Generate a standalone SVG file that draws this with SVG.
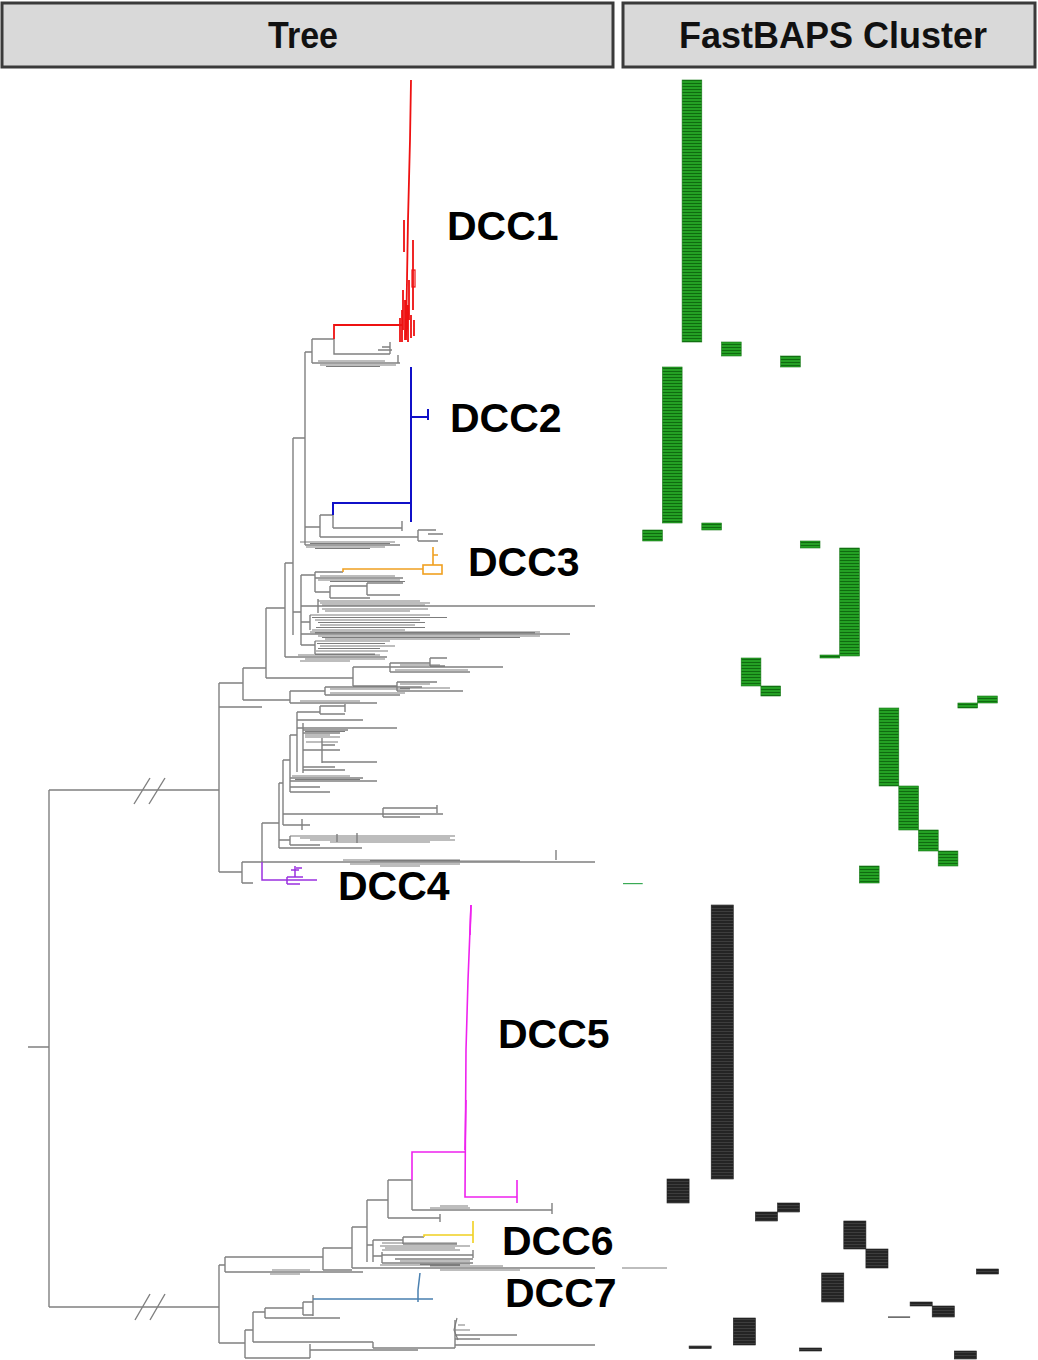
<svg xmlns="http://www.w3.org/2000/svg" width="1038" height="1360" viewBox="0 0 1038 1360">
<style>
.hdr{fill:#d9d9d9;stroke:#3a3a3a;stroke-width:3}
.ht{font-family:"Liberation Sans",Arial,sans-serif;font-weight:bold;font-size:37px;fill:#111;text-anchor:middle}
.lbl{font-family:"Liberation Sans",Arial,sans-serif;font-weight:bold;font-size:41px;fill:#000}
.g{fill:none;stroke:#808080;stroke-width:1.4}
.gb{fill:none;stroke:#7c7c7c;stroke-width:1.2}
.red{fill:none;stroke:#ee1111;stroke-width:1.8}
.blue{fill:none;stroke:#1010c8;stroke-width:2}
.orange{fill:none;stroke:#f0a020;stroke-width:1.6}
.purple{fill:none;stroke:#9b30e0;stroke-width:1.5}
.mag{fill:none;stroke:#ee22ee;stroke-width:1.6}
.yel{fill:none;stroke:#f0d020;stroke-width:1.6}
.steel{fill:none;stroke:#4a80b0;stroke-width:1.5}
.gr{fill:url(#gstripe);stroke:#1a7a1a;stroke-width:0.6}
.bk{fill:url(#kstripe);stroke:#222;stroke-width:0.6}
</style>
<defs>
<pattern id="gstripe" width="6" height="3" patternUnits="userSpaceOnUse"><rect width="6" height="3" fill="#24a024"/><rect y="2" width="6" height="1" fill="#0f6b0f"/></pattern>
<pattern id="kstripe" width="6" height="3" patternUnits="userSpaceOnUse"><rect width="6" height="3" fill="#242424"/><rect y="2" width="6" height="1" fill="#3d3d3d"/></pattern>
</defs>
<rect width="1038" height="1360" fill="#fff"/>

<g id="header-tree"><rect class="hdr" x="2" y="3" width="611" height="64"/><text class="ht" x="303" y="48" textLength="70" lengthAdjust="spacingAndGlyphs">Tree</text></g>
<g id="header-cluster"><rect class="hdr" x="623" y="3" width="412" height="64"/><text class="ht" x="833" y="48" textLength="308" lengthAdjust="spacingAndGlyphs">FastBAPS Cluster</text></g>

<g id="connectors">
<g id="root">
<path class="g" d="M28 1047 H49 M49 790 V1307 M49 790 H219 M49 1307 H219"/>
<path class="g" d="M134 804 L150 778 M149 804 L165 778 M135 1320 L150 1294 M150 1320 L165 1294"/>
</g>
<g id="upper-backbone">
<path class="g" d="M219 683 V872 M219 683 H243 M243 668 V700 M243 668 H266 M266 608 V678 M266 608 H285 M285 563 V657 M285 563 H293 M293 438 V635 M293 438 H305 M305 352 V545 M305 352 H312 M312 339 V363 M312 339 H334 M334 339 V354 H390 M390 342 V354 M378 350 H392 M382 347 H390 M312 363 H400 M398 355 V363"/>
<path class="gb" d="M318 361 H385 M320 365 H396 M326 366.5 H380"/>
<path class="g" d="M305 527 H320 M320 515 V537 M320 515 H333 M333 515 V528 M333 528 H402 M402 521 V531 M320 537 H418 M418 530 V541 M418 530 H436 M428 534 H443 M418 541 H438 M305 545 H400"/>
<path class="gb" d="M300 542 H395 M310 543.5 H390 M306 547 H385 M315 548.5 H370"/>
<path class="g" d="M293 612 H301 M301 575 V645 M301 575 H315 M315 572 V592 M315 572 H343 M315 578 H403 M315 592 H330 M330 586 V598 M330 586 H367 M367 583 V595 M367 583 H403 M367 595 H400 M330 598 H370 M301 606 H595 M318 599 V613 M301 622 H310 M310 615 V630 M301 634 H570 M301 645 H315 M315 641 V654 M285 657 H387"/>
<path class="gb" d="M320 576 H395 M318 580 H400 M330 581.5 H405 M318 601 H420 M320 603 H430 M322 605 H425 M322 609 H428 M325 611 H410 M310 615 H430 M312 617.5 H447 M315 620 H420 M318 622.5 H425 M320 625 H415 M316 627.5 H425 M312 630 H405 M310 632 H540 M315 633 H535 M318 636 H540 M322 637.5 H520 M325 639 H480 M315 641 H390 M317 643.5 H385 M320 646 H395 M318 648.5 H380 M316 651 H388 M315 654 H375 M298 655 H380 M305 659 H385 M300 661 H350"/>
<path class="g" d="M266 678 H353 M353 667 V686 M353 667 H390 M390 663 V672 M390 663 H430 M430 658 V666 M430 658 H447 M430 666 H445 M390 667 H503 M390 672 H470 M353 686 H397 M397 682 V691 M397 682 H437 M397 691 H463 M243 700 H290 M290 691 V703 M290 691 H325 M325 687 V695 M325 687 H422 M325 695 H400 M290 703 H377 M219 707 H262"/>
<path class="gb" d="M395 670 H468 M400 665 H440 M400 688 H450 M400 684 H430 M330 689 H410 M330 693 H405 M300 701 H360"/>
<path class="g" d="M262 823 V862 M262 823 H279 M279 783 V848 M279 848 H362 M279 840 H290 M290 836 V845 M290 845 H320 M337 834 V842 M357 833 V843 M279 783 H283 M283 760 V825 M283 814 H443 M383 808 V817 M383 808 H437 M437 805 V813 M383 817 H420 M283 825 H310 M302 819 V830 M283 760 H290 M290 735 V792 M290 778 H363 M290 781 H377 M290 787 H320 M290 792 H330 M290 735 H297 M297 712 V772 M297 712 H320 M320 706 V714 M320 706 H345 M345 704 V712 M320 714 H345 M297 720 H363 M297 728 H303 M303 723 V773 M303 728 H397 M303 730 H348 M303 733 H340 M303 767 H335 M303 770 H345 M303 750 H322 M322 738 V763 M322 750 H340 M322 762 H377 M322 745 H335"/>
<path class="gb" d="M290 836 H455 M300 838 H450 M310 840 H455 M330 842 H430 M292 776 H350 M295 779.5 H360 M305 731.5 H345 M305 735 H330 M305 737 H340 M306 742 H338"/>
<path class="g" d="M219 872 H242 M242 862 V883 M242 883 H253 M242 862 H595 M556 850 V860"/>
<path class="gb" d="M343 860 H460 M350 864 H460 M380 866 H420 M370 861 H520"/>
</g>
<g id="lower-backbone">
<path class="g" d="M219 1265 V1343 M219 1265 H225 M225 1257 V1272 M225 1257 H323 M323 1248 V1270 M225 1272 H363 M323 1248 H352 M352 1227 V1268 M323 1270 H352 M352 1268 H595 M352 1227 H367 M367 1200 V1262 M367 1200 H388 M388 1180 V1218 M388 1218 H440 M440 1214 V1222 M388 1180 H412 M412 1180 V1210 M412 1210 H552 M552 1203 V1214"/>
<path class="gb" d="M272 1270 H310 M270 1274 H300 M430 1266 H503 M380 1265 H460 M440 1270 H520 M420 1264 H470 M430 1208 H470 M440 1206 H468"/>
<path class="g" d="M367 1245 H373 M373 1240 V1262 M373 1240 H403 M403 1237 V1244 M403 1244 H457 M373 1256 H382 M382 1252 V1263 M382 1255 H473 M473 1250 V1258 M382 1263 H473 M395 1259 H473 M403 1237 H424"/>
<path class="gb" d="M382 1243 H457 M380 1246 H470 M385 1248 H455 M382 1250 H460 M400 1261 H470"/>
<path class="g" d="M219 1343 H245 M245 1330 V1358 M245 1330 H253 M253 1312 V1342 M253 1312 H265 M265 1308 V1318 M265 1308 H303 M303 1302 V1315 M303 1302 H313 M303 1315 H313 M313 1295 V1316 M265 1318 H340 M253 1342 H373 M373 1342 V1348 M373 1348 H455 M455 1320 V1348 M455 1335 H517 M455 1339 H480 M455 1345 H595 M245 1358 H310 M310 1344 V1358 M310 1350 H418"/>
<path class="gb" d="M455 1330 H470 M458 1325 H465 M457 1318 L454 1330 L458 1340 M622 1268 H667"/>
</g>
</g>

<g id="DCC1">
<path class="red" d="M411 80 L410 140 L408 220 L406 340 M404 220 V252 M413 240 V310 M402 310 V342 M405 300 V340 M408 305 V342 M411 315 V338 M414 320 V336 M400 318 V342 M403 290 V330 M409 280 V320 M334 339 V325 H402"/>
<rect x="412" y="270" width="3" height="17" fill="none" stroke="#ee1111" stroke-width="1.2"/>
<text class="lbl" x="447" y="240">DCC1</text>
</g>
<g id="DCC2">
<path class="blue" d="M411 367 V522 M411 417 H428 M428 409 V420 M333 515 V503 H411"/>
<text class="lbl" x="450" y="432">DCC2</text>
</g>
<g id="DCC3">
<path class="orange" d="M343 572 V569 H423 M433 565 V547 M433 555 H438"/>
<rect x="423" y="565" width="19" height="9" fill="none" stroke="#f0a020" stroke-width="1.6"/>
<text class="lbl" x="468" y="576">DCC3</text>
</g>
<g id="DCC4">
<path class="purple" d="M262 862 V880 H290 M287 877 V884 M287 880 H317 M287 877 H303 M295 866 V877 M287 884 H300 M291 870 H299 M296 868 H302"/>
<text class="lbl" x="338" y="900">DCC4</text>
</g>
<g id="DCC5">
<path class="mag" d="M412 1180 V1152 H465 M471 905 L468 980 L466 1050 L465 1197 H517 M517 1180 V1203"/>
<path class="mag" stroke-width="2.6" d="M471 905 L470 935 M466 1100 L465 1150"/>
<text class="lbl" x="498" y="1048">DCC5</text>
</g>
<g id="DCC6">
<path class="yel" d="M424 1237 V1235 H473 M473 1221 V1243"/>
<text class="lbl" x="502" y="1255">DCC6</text>
</g>
<g id="DCC7">
<path class="steel" d="M313 1299 H433 M420 1273 L418 1290 L418 1302"/>
<text class="lbl" x="505" y="1307">DCC7</text>
</g>

<g id="fastbaps-green">
<rect class="gr" x="682.1" y="80" width="19.7" height="262"/>
<rect class="gr" x="721.5" y="342" width="19.7" height="14"/>
<rect class="gr" x="780.6" y="356" width="19.7" height="11"/>
<rect class="gr" x="662.4" y="367" width="19.7" height="156"/>
<rect class="gr" x="701.8" y="523" width="19.7" height="7"/>
<rect class="gr" x="642.7" y="530" width="19.7" height="11"/>
<rect class="gr" x="800.3" y="541" width="19.7" height="7"/>
<rect class="gr" x="839.7" y="548" width="19.7" height="108"/>
<rect class="gr" x="820" y="655" width="19.7" height="3"/>
<rect class="gr" x="741.2" y="658" width="19.7" height="28"/>
<rect class="gr" x="760.9" y="686" width="19.7" height="10"/>
<rect class="gr" x="977.6" y="696" width="19.7" height="7"/>
<rect class="gr" x="957.9" y="703" width="19.7" height="5"/>
<rect class="gr" x="879.1" y="708" width="19.7" height="78"/>
<rect class="gr" x="898.8" y="786" width="19.7" height="44"/>
<rect class="gr" x="918.5" y="830" width="19.7" height="21"/>
<rect class="gr" x="938.2" y="851" width="19.7" height="15"/>
<rect class="gr" x="859.4" y="866" width="19.7" height="17"/>
<rect x="623" y="883" width="19.7" height="1.2" fill="#3aaa55"/>
</g>
<g id="fastbaps-black">
<rect class="bk" x="711.2" y="905" width="22.1" height="274"/>
<rect class="bk" x="667" y="1179" width="22.1" height="24"/>
<rect class="bk" x="777.5" y="1203" width="22.1" height="9"/>
<rect class="bk" x="755.4" y="1212" width="22.1" height="9"/>
<rect class="bk" x="843.8" y="1221" width="22.1" height="28"/>
<rect class="bk" x="865.9" y="1249" width="22.1" height="19"/>
<rect class="bk" x="976.4" y="1269" width="22.1" height="5"/>
<rect class="bk" x="821.7" y="1273" width="22.1" height="29"/>
<rect class="bk" x="910.1" y="1302" width="22.1" height="4"/>
<rect class="bk" x="932.2" y="1306" width="22.1" height="11"/>
<rect x="888" y="1316.5" width="22.1" height="1.2" fill="#333"/>
<rect class="bk" x="733.3" y="1318" width="22.1" height="27"/>
<rect class="bk" x="689.1" y="1346" width="22.1" height="2.5"/>
<rect class="bk" x="799.6" y="1348" width="22.1" height="3"/>
<rect class="bk" x="954.3" y="1351" width="22.1" height="8"/>
</g>
</svg>
